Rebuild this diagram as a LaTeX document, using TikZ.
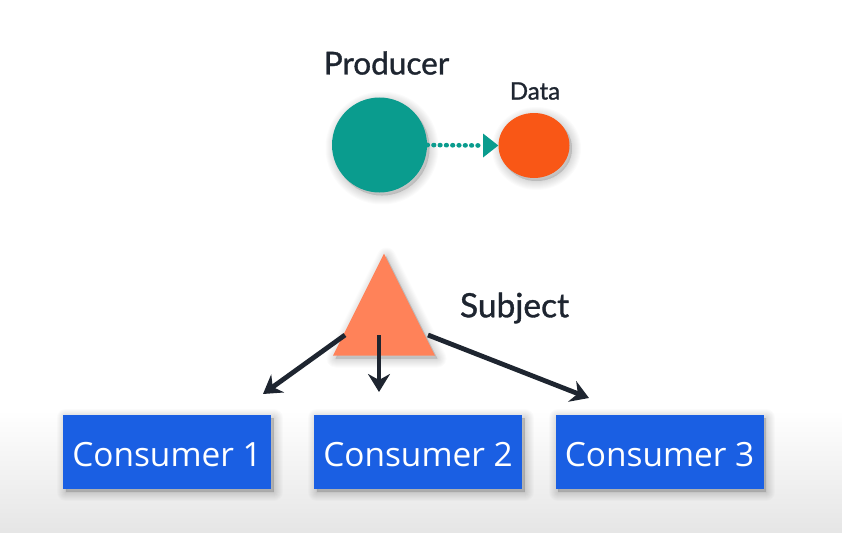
\documentclass[tikz,border=0pt]{standalone}
\usepackage{fontspec}
\usetikzlibrary{shapes.geometric,arrows.meta}
\setmainfont{Lato}
\newfontfamily\headfont[FakeBold=1.1]{Lato}
\newfontfamily\boxfont{Open Sans}
\definecolor{teal1}{HTML}{0A9C8E}
\definecolor{orange1}{HTML}{F95716}
\definecolor{salmon1}{HTML}{FF8259}
\definecolor{blue1}{HTML}{1A5FE3}
\definecolor{ink}{HTML}{1E2530}
\newcommand{\boxlabel}[1]{\smash{\raisebox{-14pt}{#1}}}
\tikzset{
  x=1pt,y=-1pt,
  blurlayer/.style={preaction={draw=black,fill=black,opacity=.016,line width=#1,line join=round,transform canvas={shift={(2.5pt,-3pt)}}}},
  softshadow/.style={blurlayer=18pt,blurlayer=16pt,blurlayer=14pt,blurlayer=12pt,blurlayer=10pt,blurlayer=8pt,blurlayer=6pt,blurlayer=4pt,blurlayer=2pt,blurlayer=1pt},
  ball/.style={circle,inner sep=0pt,softshadow},
  consumer/.style={fill=blue1,minimum width=208pt,minimum height=74pt,inner sep=0pt,text=white,font=\boxfont\fontsize{33.4}{38}\selectfont,softshadow},
  heading/.style={text=ink,inner sep=0pt},
  flow/.style={draw=ink,line width=4.8pt,-{Stealth[length=18pt,width=22pt,inset=6pt]}},
  dots/.style={draw=teal1,line width=4.6pt,line cap=round,dash pattern=on 0.6pt off 5.7pt}
}
\begin{document}
\begin{tikzpicture}
\useasboundingbox (0,0) rectangle (842,532);
\shade[top color=white,bottom color=black!10] (0,410) rectangle (842,532);
% circles
\node[ball,fill=teal1,minimum size=95pt] (producer) at (379.5,145) {};
\node[ball,fill=orange1,minimum width=71pt,minimum height=65pt,ellipse] (data) at (534,145.5) {};
\node[heading,font=\headfont\fontsize{31.5}{36}\selectfont] (ptext) at (386.5,63) {Producer};
\node[heading,font=\headfont\fontsize{24}{28}\selectfont] (dtext) at (535,91) {Data};
% dotted connector
\coordinate (tipbase) at (481,145.5);
\draw[dots] (producer.east) -- (tipbase);
\fill[teal1] (483,133.5) -- (data.west) -- (483,157.5) -- cycle;
% triangle
\node[isosceles triangle,isosceles triangle stretches,shape border rotate=90,fill=salmon1,minimum width=102pt,minimum height=102pt,inner sep=0pt,anchor=apex,softshadow] (subject) at (384,253) {};
\node[heading,font=\headfont\fontsize{33.5}{38}\selectfont] (stext) at (514.5,308) {Subject};
% consumers
\node[consumer] (c1) at (167,452) {\boxlabel{Consumer 1}};
\node[consumer] (c2) at (418,452) {\boxlabel{Consumer 2}};
\node[consumer] (c3) at (659.5,452) {\boxlabel{Consumer 3}};
% arrows
\coordinate (s1) at (345,335);
\coordinate (s2) at (379,335);
\coordinate (s3) at (428,335);
\coordinate (e1) at (263,394);
\coordinate (e2) at (379,392);
\coordinate (e3) at (589,398);
\draw[flow] (s1) -- (e1);
\draw[flow] (s2) -- (e2);
\draw[flow] (s3) -- (e3);
\end{tikzpicture}
\end{document}
